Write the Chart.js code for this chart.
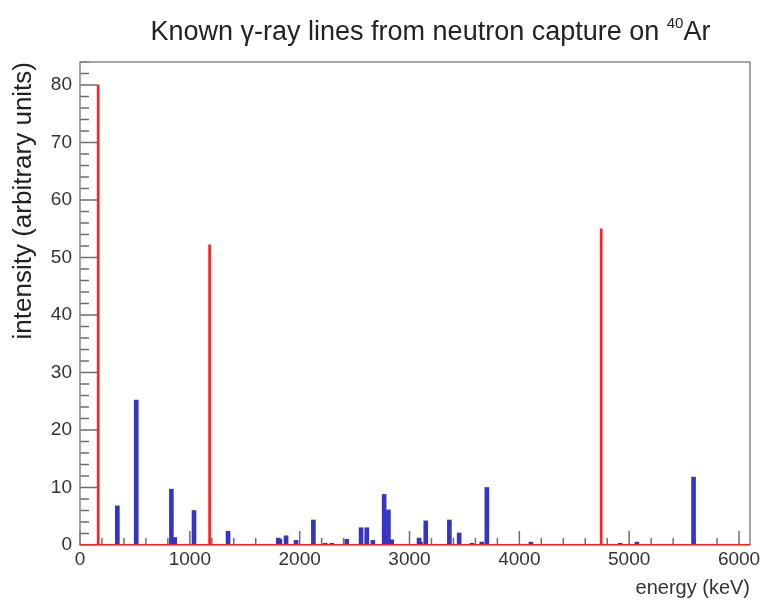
<!DOCTYPE html>
<html>
<head>
<meta charset="utf-8">
<script src="https://cdn.jsdelivr.net/npm/chart.js@4/dist/chart.umd.min.js"></script>
<style>
  html, body { margin: 0; padding: 0; background: #fff; }
  #wrap { position: relative; width: 761px; height: 600px; }
  #lines { position: absolute; left: 0; top: 0; }
  #title {
    position: absolute; left: 50px; top: 16px; width: 761px;
    text-align: center; line-height: 27px; color: #222;
    font: 27px "Liberation Sans", Arial, sans-serif;
  }
  #title sup { font-size: 15px; line-height: 0; vertical-align: 12px; }
</style>
</head>
<body>
<div id="wrap">
  <canvas id="lines" width="761" height="600"></canvas>
  <div id="title">Known γ-ray lines from neutron capture on <sup>40</sup>Ar</div>
</div>
<script>
const energyRange = [0, 6100];
const intensityRange = [0, 84];
const xTickLabels = [0, 1000, 2000, 3000, 4000, 5000, 6000];
const yTickLabels = [0, 10, 20, 30, 40, 50, 60, 70, 80];

// strong lines (red)
const redEnergy = [165, 1180, 4745];
const redIntensity = [80, 52.2, 55];

// weaker lines (blue)
const blueEnergy = [340, 512, 832, 862, 1038, 1348, 1805, 1820, 1876, 1967, 2125, 2232, 2292, 2429,
  2559, 2611, 2666, 2769, 2790, 2808, 2838, 3087, 3100, 3148, 3363, 3452, 3567, 3658, 3704,
  4105, 4918, 5070, 5586];
const blueIntensity = [6.8, 25.2, 9.7, 1.3, 6.0, 2.4, 1.2, 1.0, 1.6, 0.8, 4.35, 0.3, 0.3, 1.0,
  3.0, 3.0, 0.8, 8.8, 1.5, 6.1, 0.9, 1.2, 0.5, 4.2, 4.35, 2.1, 0.3, 0.5, 10.0,
  0.5, 0.3, 0.5, 11.8];

Chart.defaults.font.family = '"Liberation Sans", Arial, sans-serif';

// frame + inward ticks
const frameTicks = {
  id: 'frameTicks',
  beforeDatasetsDraw(chart) {
    const { ctx, chartArea: a, scales: { x, y } } = chart;
    ctx.save();
    ctx.strokeStyle = '#6e6e6e';
    ctx.lineWidth = 1.5;
    ctx.beginPath();
    for (let v = intensityRange[0]; v <= intensityRange[1]; v += 2) {
      const py = y.getPixelForValue(v);
      const len = v % 10 === 0 ? 18 : 9;
      ctx.moveTo(a.left, py);
      ctx.lineTo(a.left + len, py);
    }
    for (let v = energyRange[0]; v <= energyRange[1]; v += 200) {
      const px = x.getPixelForValue(v);
      const len = v % 1000 === 0 ? 14 : 7;
      ctx.moveTo(px, a.bottom);
      ctx.lineTo(px, a.bottom - len);
    }
    ctx.stroke();
    ctx.strokeStyle = '#888';
    ctx.strokeRect(a.left, a.top, a.right - a.left, a.bottom - a.top);
    ctx.restore();
  }
};

const toPoints = (xs, ys) => xs.map((e, i) => ({ x: e, y: ys[i] }));

new Chart(document.getElementById('lines'), {
  type: 'bar',
  data: {
    datasets: [
      {
        type: 'line',
        data: energyRange.map(e => ({ x: e, y: 0 })),
        borderColor: '#ff2020',
        borderWidth: 2,
        pointRadius: 0
      },
      {
        data: toPoints(redEnergy, redIntensity),
        backgroundColor: '#ff2020',
        barThickness: 2,
        grouped: false
      },
      {
        data: toPoints(blueEnergy, blueIntensity),
        backgroundColor: '#3535c4',
        barThickness: 4,
        grouped: false
      }
    ]
  },
  options: {
    responsive: false,
    animation: false,
    devicePixelRatio: 1,
    layout: { padding: { top: 62, right: 11, left: 0, bottom: 0 } },
    plugins: { legend: { display: false }, tooltip: { enabled: false } },
    scales: {
      x: {
        type: 'linear',
        min: energyRange[0],
        max: energyRange[1],
        offset: false,
        grid: { display: false, drawTicks: false },
        border: { display: false },
        ticks: {
          color: '#333', font: { size: 19 }, padding: 3, maxRotation: 0, autoSkip: false,
          callback: v => String(v)
        },
        afterBuildTicks: s => { s.ticks = xTickLabels.map(v => ({ value: v })); },
        afterFit: s => { s.height = 55; s.paddingLeft = 0; s.paddingRight = 0; },
        title: {
          display: true, text: 'energy (keV)', align: 'end', color: '#333',
          font: { size: 20 }, padding: { top: 0, bottom: 0 }
        }
      },
      y: {
        min: intensityRange[0],
        max: intensityRange[1],
        grid: { display: false, drawTicks: false },
        border: { display: false },
        ticks: { color: '#333', font: { size: 19 }, padding: 8, callback: v => String(v) },
        afterBuildTicks: s => { s.ticks = yTickLabels.map(v => ({ value: v })); },
        afterFit: s => { s.width = 80; s.paddingTop = 0; s.paddingBottom = 0; },
        title: {
          display: true, text: 'intensity (arbitrary units)', align: 'end', color: '#222',
          font: { size: 26 }, padding: { top: 8, bottom: 0 }
        }
      }
    }
  },
  plugins: [frameTicks]
});
</script>
</body>
</html>
